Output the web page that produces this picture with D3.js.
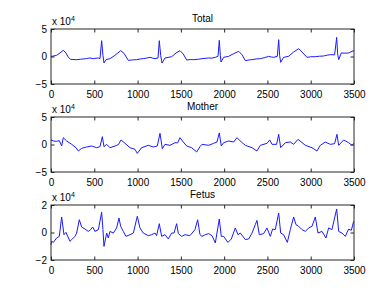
<!DOCTYPE html>
<html>
<head>
<meta charset="utf-8">
<script src="https://cdn.jsdelivr.net/npm/d3@7"></script>
<style>
  body { margin: 0; background: #fff; }
  svg { display: block; }
  text { font-family: "Liberation Sans", Arial, Helvetica, sans-serif; fill: #000; }
  .tick line { stroke: #262626; }
  .tick text { font-size: 10px; }
</style>
</head>
<body>
<svg id="fig"></svg>
<script>
// samples, values (units of 1e4)
var titles = ["Total", "Mother", "Fetus"];
var xTicks = [0, 500, 1000, 1500, 2000, 2500, 3000, 3500];
var yTicksBig = [-5, 0, 5];
var yTicksFetus = [-2, 0, 2];

var total = [
  [0, 0.0], [65, 0.21], [104, 0.64], [142, 1.12], [173, 0.64], [200, -0.15], [227, -0.52],
  [296, -0.58], [340, -0.5], [373, -0.45], [410, -0.38], [450, -0.27], [489, -0.39], [520, -0.3],
  [547, -0.27], [566, -0.39], [585, 2.88], [600, 0.2], [612, -1.18], [635, -0.58], [681, -0.39],
  [739, 0.21], [805, 1.06], [843, 0.58], [893, -0.7], [940, -0.62], [989, -0.58], [1030, -0.45],
  [1066, -0.39], [1100, -0.3], [1143, -0.15], [1175, -0.3], [1201, -0.39], [1236, -0.27],
  [1251, 2.88], [1267, 0.2], [1282, -1.18], [1317, -0.27], [1394, -0.03], [1444, 0.64],
  [1490, 1.06], [1528, 0.45], [1567, -0.64], [1610, -0.55], [1644, -0.58], [1700, -0.5],
  [1744, -0.39], [1821, -0.27], [1860, -0.3], [1898, -0.15], [1929, 0.03], [1944, 2.94],
  [1956, 0.2], [1964, -1.0], [1994, -0.15], [2052, 0.03], [2110, 0.52], [2168, 0.94],
  [2206, 0.33], [2245, -0.76], [2290, -0.62], [2322, -0.58], [2370, -0.45], [2418, -0.39],
  [2470, -0.2], [2514, 0.03], [2545, -0.1], [2572, -0.15], [2614, 0.03], [2630, 3.06],
  [2641, 0.2], [2653, -1.06], [2687, -0.15], [2745, 0.03], [2803, 0.82], [2861, 1.42],
  [2899, 0.82], [2957, -0.15], [3000, -0.05], [3053, -0.03], [3100, 0.05], [3149, 0.09],
  [3190, 0.25], [3226, 0.33], [3276, 0.3], [3300, 3.48], [3311, 0.5], [3323, -0.58],
  [3353, 0.64], [3400, 0.6], [3438, 0.64], [3477, 0.94], [3500, 1.06]
];

var mother = [
  [0, 0.82], [27, 0.64], [65, 0.58], [96, 0.7], [123, -0.27], [142, 1.24], [181, 0.64],
  [239, 0.03], [289, -0.58], [316, -1.18], [354, -0.7], [412, -0.45], [470, -0.27],
  [528, -0.58], [566, -0.39], [593, 1.42], [612, -0.39], [643, 0.03], [681, -0.58],
  [739, -0.27], [778, -0.03], [809, 0.82], [855, 0.21], [912, -0.58], [970, -0.88],
  [997, -1.61], [1047, -0.58], [1124, -0.15], [1182, -0.45], [1228, -0.27], [1259, 2.03],
  [1286, -0.76], [1317, 0.03], [1375, -0.15], [1432, 0.33], [1463, 0.3], [1490, 1.24],
  [1528, 0.45], [1567, -0.27], [1625, -0.58], [1683, -1.36], [1721, -0.39], [1744, 0.03],
  [1821, -0.15], [1879, 0.21], [1917, 0.45], [1944, 2.1], [1967, -0.27], [1994, 0.33],
  [2052, 0.64], [2110, 0.45], [2148, 1.24], [2198, 0.45], [2245, -0.15], [2322, -0.58],
  [2379, -1.18], [2418, -0.15], [2495, 0.21], [2526, 0.82], [2553, 0.03], [2606, 0.03],
  [2630, 1.85], [2653, -0.58], [2707, 0.33], [2764, 0.45], [2803, 0.03], [2853, 0.94],
  [2938, -0.15], [3015, -0.58], [3072, -1.18], [3111, -0.15], [3168, 0.45], [3226, 0.03],
  [3276, 0.15], [3303, 1.85], [3323, -0.15], [3380, 0.82], [3438, 0.33], [3477, -0.15],
  [3500, 0.21]
];

var fetus = [
  [0, -0.88], [8, -0.64], [27, -0.72], [65, -0.4], [96, -0.28], [123, 1.13], [150, -0.16],
  [173, 0.01], [219, -0.64], [239, -0.52], [277, -0.28], [296, -0.04], [327, 0.93],
  [354, 0.4], [393, 0.25], [431, 0.08], [458, 0.21], [481, 0.4], [508, 0.08], [547, 0.21],
  [585, 1.47], [600, 0.21], [612, -1.01], [643, -0.04], [662, -0.4], [681, 0.08],
  [720, -0.04], [758, 0.33], [785, 1.05], [805, 0.45], [835, 0.08], [866, -0.28],
  [912, -0.16], [951, -0.04], [997, 1.18], [1028, 0.33], [1066, -0.04], [1124, -0.23],
  [1163, -0.16], [1201, -0.04], [1220, -0.23], [1251, 0.64], [1278, -0.28], [1317, -0.16],
  [1355, -0.47], [1394, -0.04], [1421, -0.04], [1451, 0.64], [1471, -0.08], [1509, -0.28],
  [1548, -0.16], [1605, -0.23], [1663, 0.21], [1694, 0.93], [1721, -0.16], [1744, -0.28],
  [1783, -0.16], [1821, -0.08], [1860, -0.23], [1898, -0.76], [1944, 0.98], [1967, -0.28],
  [1994, -0.28], [2044, -0.72], [2083, -0.47], [2129, 0.33], [2160, -0.16], [2187, -0.04],
  [2245, -0.52], [2283, -0.47], [2322, -0.04], [2360, 0.57], [2379, 0.88], [2406, -0.16],
  [2456, -0.08], [2495, 0.33], [2533, -0.28], [2560, 0.25], [2591, 0.21], [2630, 1.42],
  [2653, -0.04], [2687, -0.16], [2730, -0.72], [2764, 0.21], [2803, 1.13], [2830, 0.57],
  [2861, 0.45], [2899, 0.21], [2938, 0.08], [2976, 0.33], [3015, 0.45], [3053, 1.13],
  [3084, -0.04], [3130, 0.08], [3176, -0.4], [3207, 0.33], [3245, 0.21], [3300, 1.71],
  [3323, 0.08], [3361, -0.04], [3400, -0.28], [3438, 0.25], [3469, 0.16], [3496, 0.81]
];

const W = 391, H = 294;
const svg = d3.select("#fig").attr("width", W).attr("height", H);

const left = 51, right = 354, axH = 55;
const tops = [29, 117, 205];
const panels = [
  { data: total, dom: [-5, 5], ticks: yTicksBig },
  { data: mother, dom: [-5, 5], ticks: yTicksBig },
  { data: fetus, dom: [-2, 2], ticks: yTicksFetus }
];

const x = d3.scaleLinear().domain([0, 3500]).range([left, right]);
const tl = 3.5; // tick length, drawn inward

panels.forEach(function (p, i) {
    const top = tops[i], bottom = top + axH;
    const y = d3.scaleLinear().domain(p.dom).range([bottom, top]);
    const g = svg.append("g");

    // data line
    const line = d3.line().x(d => x(d[0])).y(d => y(d[1]));
    g.append("path")
        .datum(p.data)
        .attr("fill", "none")
        .attr("stroke", "#1a1aff")
        .attr("stroke-width", 1)
        .attr("stroke-linejoin", "round")
        .attr("d", line);

    // axes with inward ticks
    g.append("g").attr("transform", `translate(0,${bottom})`)
        .call(d3.axisBottom(x).tickValues(xTicks).tickSizeInner(-tl).tickSizeOuter(0).tickPadding(7).tickFormat(d3.format("d")))
        .call(a => a.select(".domain").remove());
    g.append("g").attr("transform", `translate(0,${top})`)
        .call(d3.axisTop(x).tickValues(xTicks).tickSizeInner(-tl).tickSizeOuter(0).tickFormat(""))
        .call(a => a.select(".domain").remove());
    g.append("g").attr("transform", `translate(${left},0)`)
        .call(d3.axisLeft(y).tickValues(p.ticks).tickSizeInner(-tl).tickSizeOuter(0).tickPadding(4).tickFormat(d3.format("d")))
        .call(a => a.select(".domain").remove());
    g.append("g").attr("transform", `translate(${right},0)`)
        .call(d3.axisRight(y).tickValues(p.ticks).tickSizeInner(-tl).tickSizeOuter(0).tickFormat(""))
        .call(a => a.select(".domain").remove());

    // box
    g.append("rect")
        .attr("x", left).attr("y", top)
        .attr("width", right - left).attr("height", axH)
        .attr("fill", "none").attr("stroke", "#262626").attr("stroke-width", 1);

    // title
    g.append("text")
        .attr("x", (left + right) / 2).attr("y", top - 7)
        .attr("text-anchor", "middle")
        .style("font-size", "10px")
        .text(titles[i]);

    // exponent label
    const ex = g.append("text").attr("x", left + 1).attr("y", top - 4).style("font-size", "10px");
    ex.append("tspan").text("x 10");
    ex.append("tspan").attr("dy", -4).style("font-size", "7px").text("4");
});
</script>
</body>
</html>
